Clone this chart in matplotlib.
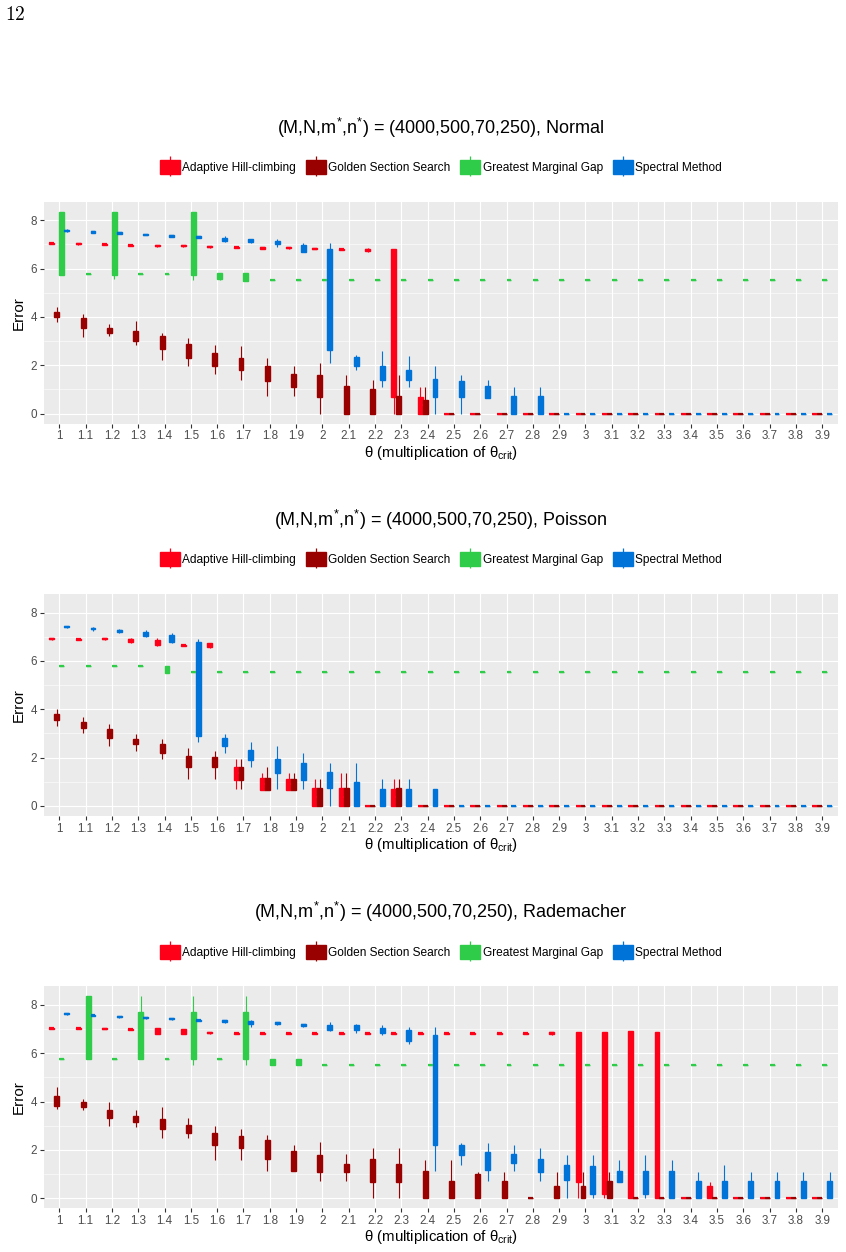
import numpy as np
import matplotlib
matplotlib.use("Agg")
import matplotlib.pyplot as plt
from matplotlib.patches import Patch
from matplotlib.lines import Line2D
from matplotlib.legend_handler import HandlerTuple

plt.rcParams['font.family'] = ['Liberation Sans', 'DejaVu Sans']
plt.rcParams['mathtext.fontset'] = 'custom'
plt.rcParams['mathtext.rm'] = 'Liberation Sans'
plt.rcParams['mathtext.it'] = 'Liberation Sans:italic'
plt.rcParams['mathtext.bf'] = 'Liberation Sans:bold'

# ---------------- data ----------------
theta_labels = ['1', '1.1', '1.2', '1.3', '1.4', '1.5', '1.6', '1.7', '1.8', '1.9',
                '2', '2.1', '2.2', '2.3', '2.4', '2.5', '2.6', '2.7', '2.8', '2.9',
                '3', '3.1', '3.2', '3.3', '3.4', '3.5', '3.6', '3.7', '3.8', '3.9']
methods = ['Adaptive Hill-climbing', 'Golden Section Search',
           'Greatest Marginal Gap', 'Spectral Method']
colors = ['#ff0019', '#990000', '#2ecc48', '#0073d9']
panel_titles = [r"(M,N,m$^{*}$,n$^{*}$) = (4000,500,70,250), Normal",
                r"(M,N,m$^{*}$,n$^{*}$) = (4000,500,70,250), Poisson",
                r"(M,N,m$^{*}$,n$^{*}$) = (4000,500,70,250), Rademacher"]

Z = (0, 0, 0, 0)
# each entry: (lower whisker, q1, q3, upper whisker)
normal_ahc = [(7.0, 7.02, 7.06, 7.08), (6.98, 7.0, 7.04, 7.06), (6.96, 6.98, 7.02, 7.04),
              (6.93, 6.94, 6.98, 7.0), (6.91, 6.92, 6.96, 6.98), (6.91, 6.92, 6.96, 6.98),
              (6.86, 6.88, 6.93, 6.95), (6.85, 6.87, 6.91, 6.93), (6.82, 6.83, 6.88, 6.9),
              (6.82, 6.84, 6.88, 6.9), (6.79, 6.81, 6.85, 6.87), (6.76, 6.78, 6.82, 6.84),
              (6.7, 6.73, 6.83, 6.85), (0.0, 0.67, 6.8, 6.82), (0, 0, 0.7, 1.1)] + [Z] * 15
normal_gss = [(3.77, 3.99, 4.22, 4.4), (3.15, 3.56, 3.96, 4.12), (3.22, 3.35, 3.56, 3.7),
              (2.83, 3.02, 3.4, 3.84), (2.2, 2.69, 3.2, 3.33), (1.95, 2.31, 2.89, 3.13),
              (1.62, 1.97, 2.52, 2.85), (1.39, 1.81, 2.3, 2.78), (0.71, 1.36, 1.98, 2.31),
              (0.71, 1.09, 1.65, 1.95), (0, 0.67, 1.58, 2.09), (0, 0, 1.13, 1.61),
              (0, 0, 1.02, 1.4), (0, 0, 0.74, 1.61), (0, 0, 0.55, 1.1)] + [Z] * 15
normal_gmg = [(5.73, 5.73, 8.35, 8.35), (5.77,) * 4, (5.55, 5.73, 8.35, 8.35),
              (5.77,) * 4, (5.77,) * 4, (5.53, 5.73, 8.35, 8.35),
              (5.53, 5.57, 5.8, 5.8), (5.5, 5.5, 5.8, 5.8)] + [(5.53,) * 4] * 22
normal_sm = [(7.53, 7.54, 7.61, 7.62), (7.48, 7.49, 7.55, 7.56), (7.44, 7.45, 7.51, 7.52),
             (7.37, 7.38, 7.44, 7.45), (7.3, 7.31, 7.37, 7.38), (7.26, 7.27, 7.33, 7.34),
             (7.08, 7.13, 7.27, 7.33), (7.06, 7.08, 7.22, 7.24), (6.88, 7.0, 7.14, 7.22),
             (6.67, 6.67, 6.97, 7.07), (2.09, 2.64, 6.79, 7.07), (1.8, 1.95, 2.36, 2.42),
             (1.1, 1.37, 1.98, 2.57), (1.1, 1.37, 1.81, 2.4), (0, 0.69, 1.43, 1.95),
             (0, 0.69, 1.33, 1.61), (0.65, 0.65, 1.13, 1.4), (0, 0, 0.71, 1.1),
             (0, 0, 0.71, 1.1)] + [Z] * 11

poisson_ahc = [(6.88, 6.89, 6.93, 6.94), (6.87, 6.88, 6.92, 6.93), (6.88, 6.89, 6.93, 6.94),
               (6.72, 6.8, 6.92, 6.93), (6.63, 6.66, 6.87, 6.93), (6.62, 6.63, 6.67, 6.68),
               (6.55, 6.59, 6.73, 6.74), (0.7, 1.08, 1.63, 1.94), (0.66, 0.66, 1.14, 1.38),
               (0.66, 0.66, 1.12, 1.38), (0, 0, 0.76, 1.1), (0, 0, 0.76, 1.38), Z,
               (0, 0, 0.7, 1.1)] + [Z] * 16
poisson_gss = [(3.32, 3.56, 3.79, 4.01), (3.0, 3.24, 3.46, 3.68), (2.48, 2.8, 3.17, 3.39),
               (2.29, 2.55, 2.77, 2.98), (1.94, 2.17, 2.55, 2.77), (1.1, 1.6, 2.08, 2.39),
               (1.1, 1.59, 2.04, 2.29), (0.7, 1.08, 1.63, 1.94), (0.66, 0.66, 1.14, 1.6),
               (0.66, 0.66, 1.12, 1.38), (0, 0, 0.73, 1.1), (0, 0, 0.73, 1.38), Z,
               (0, 0, 0.73, 1.1)] + [Z] * 16
poisson_gmg = [(5.77,) * 4] * 4 + [(5.49, 5.49, 5.79, 5.79)] + [(5.52,) * 4] * 25
poisson_sm = [(7.38, 7.39, 7.45, 7.46), (7.25, 7.3, 7.38, 7.39), (7.15, 7.2, 7.28, 7.3),
              (6.97, 7.03, 7.21, 7.28), (6.72, 6.8, 7.08, 7.17), (2.63, 2.91, 6.8, 6.9),
              (2.18, 2.46, 2.83, 2.98), (1.6, 1.9, 2.32, 2.63), (0.7, 1.35, 1.93, 2.48),
              (0.7, 1.08, 1.77, 2.18), (0, 0.76, 1.39, 1.77), (0, 0, 1.0, 1.77),
              (0, 0, 0.7, 1.1), (0, 0, 0.7, 1.1), (0, 0, 0.7, 0.7)] + [Z] * 15

rad_ahc = [(7.0, 7.01, 7.05, 7.06), (7.0, 7.01, 7.05, 7.06), (6.99, 7.0, 7.04, 7.05),
           (6.97, 6.98, 7.02, 7.03), (6.8, 6.8, 7.05, 7.05), (6.8, 6.8, 7.0, 7.0),
           (6.81, 6.82, 6.86, 6.87), (6.8, 6.81, 6.85, 6.86), (6.8, 6.81, 6.85, 6.86),
           (6.8, 6.81, 6.85, 6.86), (6.8, 6.81, 6.85, 6.86), (6.79, 6.8, 6.84, 6.85),
           (6.8, 6.81, 6.85, 6.86), (6.8, 6.81, 6.85, 6.86), (6.8, 6.81, 6.85, 6.86),
           (6.8, 6.81, 6.85, 6.86), (6.8, 6.81, 6.85, 6.86), (6.8, 6.81, 6.85, 6.86),
           (6.8, 6.81, 6.85, 6.86), (6.76, 6.78, 6.86, 6.88), (0, 0.66, 6.87, 6.87),
           (0, 0.18, 6.87, 6.87), (0, 0, 6.91, 6.91), (0, 0, 6.87, 6.87), Z,
           (0, 0, 0.52, 0.69)] + [Z] * 4
rad_gss = [(3.7, 3.83, 4.22, 4.6), (3.64, 3.78, 3.99, 4.12), (3.0, 3.32, 3.63, 3.99),
           (2.94, 3.14, 3.39, 3.67), (2.5, 2.88, 3.28, 3.77), (2.5, 2.7, 3.02, 3.3),
           (1.6, 2.21, 2.7, 3.0), (1.6, 2.08, 2.57, 2.88), (1.12, 1.63, 2.41, 2.63),
           (1.12, 1.14, 1.94, 2.19), (0.7, 1.08, 1.77, 2.32), (0.7, 1.08, 1.42, 1.81),
           (0, 0.66, 1.64, 2.08), (0, 0.66, 1.42, 2.08), (0, 0, 1.12, 1.6),
           (0, 0, 0.73, 1.6), (0, 0, 1.0, 1.08), (0, 0, 0.73, 1.09), Z,
           (0, 0, 0.52, 1.09), (0, 0, 0.52, 1.09), (0, 0, 0.7, 1.09)] + [Z] * 8
rad_gmg = [(5.77,) * 4, (5.74, 5.74, 8.35, 8.35), (5.77,) * 4, (5.74, 5.74, 7.72, 8.35),
           (5.77,) * 4, (5.53, 5.74, 7.72, 8.35), (5.77,) * 4, (5.53, 5.74, 7.72, 8.35),
           (5.52, 5.52, 5.78, 5.78), (5.5, 5.5, 5.78, 5.78)] + [(5.53,) * 4] * 20
rad_sm = [(7.6, 7.61, 7.65, 7.66), (7.53, 7.54, 7.58, 7.59), (7.47, 7.48, 7.52, 7.53),
          (7.43, 7.44, 7.48, 7.49), (7.39, 7.4, 7.44, 7.45), (7.34, 7.35, 7.39, 7.4),
          (7.26, 7.28, 7.36, 7.37), (7.08, 7.19, 7.32, 7.37), (7.17, 7.2, 7.28, 7.3),
          (7.08, 7.12, 7.2, 7.22), (6.92, 6.98, 7.16, 7.28), (6.84, 6.98, 7.15, 7.2),
          (6.74, 6.83, 7.06, 7.15), (6.37, 6.52, 6.98, 7.08), (1.12, 2.19, 6.77, 7.08),
          (1.39, 1.78, 2.22, 2.29), (0.7, 1.16, 1.92, 2.29), (1.12, 1.46, 1.83, 2.19),
          (0.7, 1.08, 1.63, 2.08), (0, 0.77, 1.39, 1.78), (0, 0.18, 1.32, 1.78),
          (0.66, 0.66, 1.12, 1.6), (0, 0.18, 1.12, 1.78), (0, 0, 1.12, 1.6),
          (0, 0, 0.73, 1.09), (0, 0, 0.73, 1.39)] + [(0, 0, 0.73, 1.09)] * 4

panels = [[normal_ahc, normal_gss, normal_gmg, normal_sm],
          [poisson_ahc, poisson_gss, poisson_gmg, poisson_sm],
          [rad_ahc, rad_gss, rad_gmg, rad_sm]]

# ---------------- figure ----------------
W, H = 846, 1252
fig = plt.figure(figsize=(W / 100, H / 100), dpi=100)
fig.patch.set_facecolor('white')

fig.text(15 / W, 1 - 15 / H, "$12$", math_fontfamily='cm', fontsize=14,
         ha='center', va='center', color='black')

left_px, right_px = 43.5, 838
panel_h = 222
tops = [201.7, 594.0, 986.3]
title_y = [128.0, 520.0, 912.0]
legend_y = [167.0, 559.0, 952.0]
offsets = [-0.28125, -0.09375, 0.09375, 0.28125]
bw = 0.1875
n = len(theta_labels)
base = np.arange(n)

for p, (top, data, title) in enumerate(zip(tops, panels, panel_titles)):
    ax = fig.add_axes([left_px / W, 1 - (top + panel_h) / H,
                       (right_px - left_px) / W, panel_h / H])
    ax.set_facecolor('#EBEBEB')
    for s in ax.spines.values():
        s.set_visible(False)
    ax.set_axisbelow(True)
    ax.set_xlim(-0.6, n - 1 + 0.6)
    ax.set_ylim(-0.4175, 8.7675)
    ax.set_xticks(base)
    ax.set_xticklabels(theta_labels)
    ax.set_yticks([0, 2, 4, 6, 8])
    ax.set_yticks([1, 3, 5, 7], minor=True)
    ax.grid(which='major', color='white', linewidth=0.85)
    ax.grid(which='minor', axis='y', color='white', linewidth=0.4)
    ax.tick_params(which='major', length=2.8, width=0.8, color='#333333',
                   labelcolor='#4D4D4D', labelsize=8.4, pad=2.0)
    ax.tick_params(which='minor', length=0)

    for m in range(4):
        c = colors[m]
        stats = []
        for (lo, q1, q3, hi) in data[m]:
            stats.append(dict(med=(q1 + q3) / 2.0, q1=q1, q3=q3,
                              whislo=lo, whishi=hi, fliers=[]))
        ax.bxp(stats, positions=base + offsets[m], widths=bw,
               patch_artist=True, showcaps=False, showfliers=False,
               manage_ticks=False,
               boxprops=dict(facecolor=c, edgecolor=c, linewidth=1.0),
               whiskerprops=dict(color=c, linewidth=0.8, solid_capstyle='butt'),
               medianprops=dict(color=c, linewidth=1.6, solid_capstyle='butt'))

    ax.set_ylabel('Error', fontsize=11, color='black', labelpad=3)
    ax.set_xlabel(r"θ (multiplication of θ$_{\mathrm{crit}}$)", fontsize=10.8,
                  color='black', labelpad=1.0)

    ax.text(0.5, 1 + (top - title_y[p]) / panel_h, title,
            transform=ax.transAxes, ha='center', va='center',
            fontsize=13, color='black')

    handles = [(Patch(facecolor=c, edgecolor=c),
                Line2D([], [], color=c, marker='|', markersize=14, markeredgewidth=0.9,
                       linestyle='None')) for c in colors]
    ax.legend(handles, methods, loc='center',
              bbox_to_anchor=(0.5, 1 + (top - legend_y[p]) / panel_h),
              ncol=4, frameon=False, fontsize=8.6,
              handler_map={tuple: HandlerTuple(ndivide=1, pad=0)},
              handlelength=1.7, handleheight=1.4, handletextpad=0.2,
              columnspacing=0.8, borderpad=0)

fig.savefig('out.png', dpi=100, facecolor='white')
